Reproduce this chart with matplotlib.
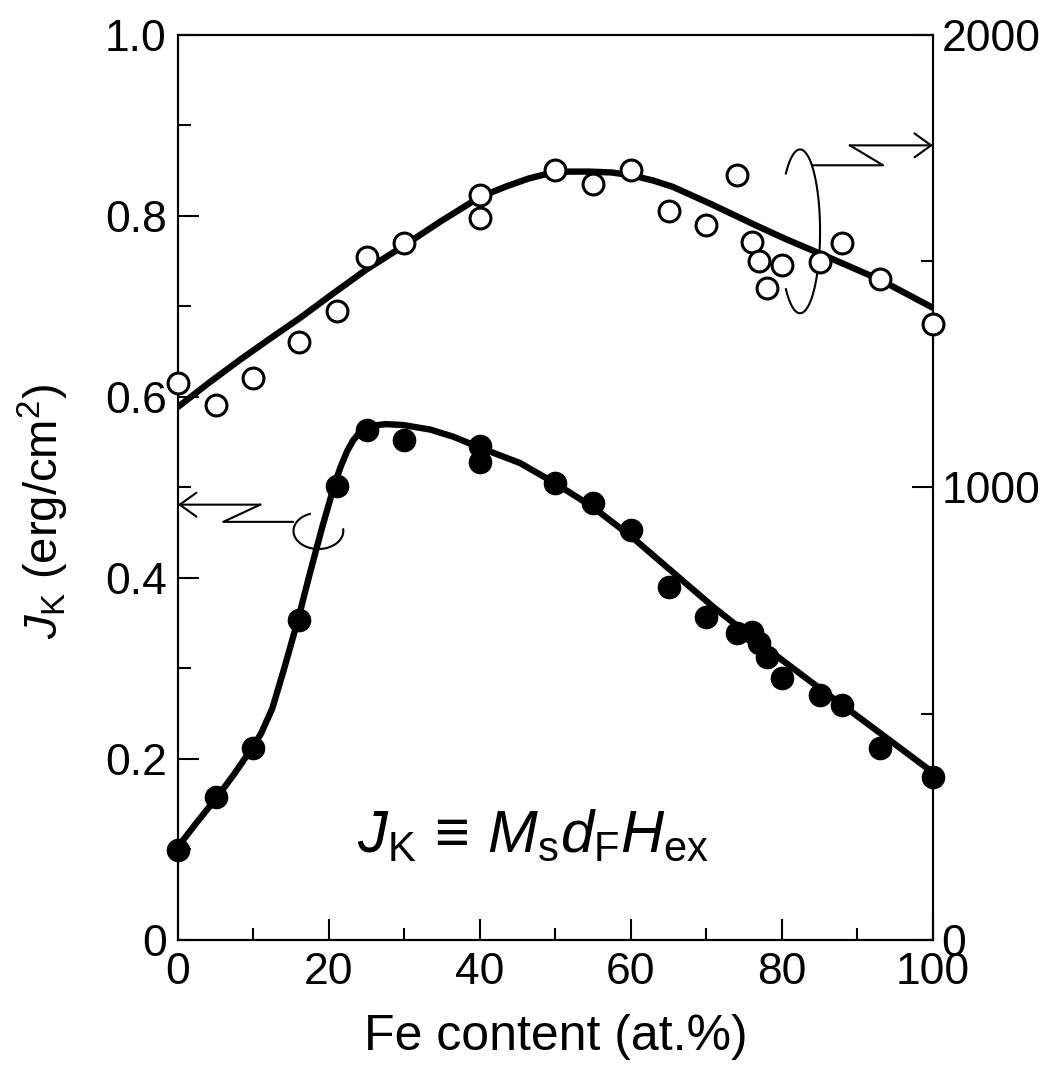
import numpy as np
import matplotlib
matplotlib.use('Agg')
import matplotlib.pyplot as plt

plt.rcParams['font.family'] = ['Liberation Sans', 'DejaVu Sans']
plt.rcParams['mathtext.fontset'] = 'custom'
plt.rcParams['mathtext.rm'] = 'Liberation Sans'
plt.rcParams['mathtext.it'] = 'Liberation Sans:italic'
plt.rcParams['mathtext.cal'] = 'Liberation Sans'

# measured points: Fe content (at.%)
fe_jk = [0, 5, 10, 16, 21, 25, 30, 40, 40, 50, 55, 60, 65, 70, 74, 76, 77, 78, 80, 85, 88, 93, 100]
jk = [0.099, 0.158, 0.212, 0.354, 0.502, 0.564, 0.552, 0.546, 0.528, 0.505, 0.483, 0.453,
      0.390, 0.357, 0.339, 0.340, 0.328, 0.313, 0.290, 0.271, 0.260, 0.212, 0.180]

fe_hex = [0, 5, 10, 16, 21, 25, 30, 40, 40, 50, 55, 60, 65, 70, 74, 76, 77, 78, 80, 85, 88, 93, 100]
hex_ = [1231, 1182, 1242, 1321, 1390, 1509, 1540, 1646, 1596, 1702, 1670, 1702, 1612, 1580,
        1690, 1542, 1500, 1440, 1492, 1498, 1540, 1460, 1362]

# guide curves
fe_jk_fit = [0, 2.5, 5.2, 7.5, 9.8, 11.0, 12.5, 14.0, 15.9, 17.5, 19.1, 20.8, 21.6, 22.4, 23.2,
             24.1, 24.8, 25.6, 26.5, 27.5, 29.8, 33.4, 36.5, 40.0, 45.3, 49.9, 55.0, 60.3, 65.6,
             70.9, 74.4, 78.8, 85.0, 88.6, 93.9, 100]
jk_fit = [0.103, 0.130, 0.158, 0.184, 0.212, 0.228, 0.256, 0.298, 0.354, 0.406, 0.456, 0.505,
          0.524, 0.540, 0.552, 0.561, 0.565, 0.568, 0.569, 0.570, 0.569, 0.564, 0.556, 0.544,
          0.527, 0.505, 0.478, 0.444, 0.406, 0.368, 0.345, 0.317, 0.278, 0.256, 0.223, 0.185]

fe_hex_fit = [0, 4.0, 8.2, 12.2, 16.2, 20.5, 24.9, 29.9, 34.7, 40.0, 43.6, 46.5, 48.9, 51.8,
              54.6, 57.5, 60.3, 63.0, 65.6, 70.9, 76.7, 80.5, 84.6, 93.0, 100]
hex_fit = [1178, 1230, 1282, 1329, 1375, 1428, 1481, 1534, 1587, 1642, 1666, 1683, 1693, 1698,
           1698, 1696, 1689, 1678, 1664, 1624, 1578, 1549, 1520, 1459, 1397]

fig = plt.figure(figsize=(10.5, 10.69), dpi=100)
ax = fig.add_axes([0.1695, 0.1207, 0.719, 0.8466])
ax2 = ax.twinx()

ax.plot(fe_jk_fit, jk_fit, color='black', lw=4.6, solid_capstyle='round',
        solid_joinstyle='round', zorder=2)
ax.plot(fe_jk, jk, 'o', color='black', ms=16, zorder=3, clip_on=False)

ax2.plot(fe_hex_fit, hex_fit, color='black', lw=4.6, solid_capstyle='round',
         solid_joinstyle='round', zorder=2)
ax2.plot(fe_hex, hex_, 'o', mfc='white', mec='black', mew=2.2, ms=15, zorder=3, clip_on=False)

ax.set_xlim(0, 100)
ax.set_ylim(0, 1.0)
ax2.set_ylim(0, 2000)

ax.set_xticks([0, 20, 40, 60, 80, 100])
ax.set_xticks([10, 30, 50, 70, 90], minor=True)
ax.set_yticks([0, 0.2, 0.4, 0.6, 0.8, 1.0])
ax.set_yticklabels(['0', '0.2', '0.4', '0.6', '0.8', '1.0'])
ax.set_yticks([0.1, 0.3, 0.5, 0.7, 0.9], minor=True)
ax2.set_yticks([0, 1000, 2000])
ax2.set_yticks([500, 1500], minor=True)

for a in (ax, ax2):
    for s in a.spines.values():
        s.set_linewidth(1.5)
ax.tick_params(which='both', direction='in', width=1.5, labelsize=32, top=False, right=False)
ax.tick_params(which='major', length=15)
ax.tick_params(which='minor', length=9)
ax.tick_params(axis='y', pad=8)
ax.tick_params(axis='x', pad=9)
ax2.tick_params(which='both', direction='in', width=1.5, labelsize=32, pad=6)
ax2.tick_params(which='major', length=15)
ax2.tick_params(which='minor', length=9)

ax.set_xlabel('Fe content (at.%)', fontsize=36)
ax.xaxis.set_label_coords(0.5, -0.082)
ax.set_ylabel(r'$J_{\rm K}$ (erg/cm$^2$)', fontsize=34)
ax.yaxis.set_label_coords(-0.142, 0.474)

ax.text(47, 0.097, r'$J_{\rm K}\,\equiv\,M_{\rm s}d_{\rm F}H_{\rm ex}$', fontsize=43,
        ha='center', va='baseline')


def loop(cx, cy, w, h, t0, t1):
    t = np.radians(np.linspace(t0, t1, 120))
    ax.plot(cx + w / 2 * np.cos(t), cy + h / 2 * np.sin(t), color='black', lw=1.5,
            zorder=1, clip_on=False)


arrow = dict(arrowstyle='->, head_length=0.6, head_width=0.43', lw=1.5, color='black',
             shrinkA=0, shrinkB=0, mutation_scale=20)

# left pointer (filled symbols -> left axis)
ax.annotate('', xy=(0, 0.481), xytext=(10.9, 0.481), arrowprops=arrow,
            annotation_clip=False)
ax.plot([10.9, 6.0, 15.2], [0.481, 0.462, 0.462], color='black', lw=1.5, clip_on=False)
loop(18.6, 0.452, 6.6, 0.040, 110, 365)

# right pointer (open symbols -> right axis)
ax.annotate('', xy=(100, 0.878), xytext=(89.0, 0.878), arrowprops=arrow,
            annotation_clip=False)
ax.plot([89.0, 93.4, 84.0], [0.878, 0.856, 0.856], color='black', lw=1.5, clip_on=False)
loop(82.4, 0.783, 5.3, 0.181, 225, 495)

fig.savefig('out.png', dpi=100)
